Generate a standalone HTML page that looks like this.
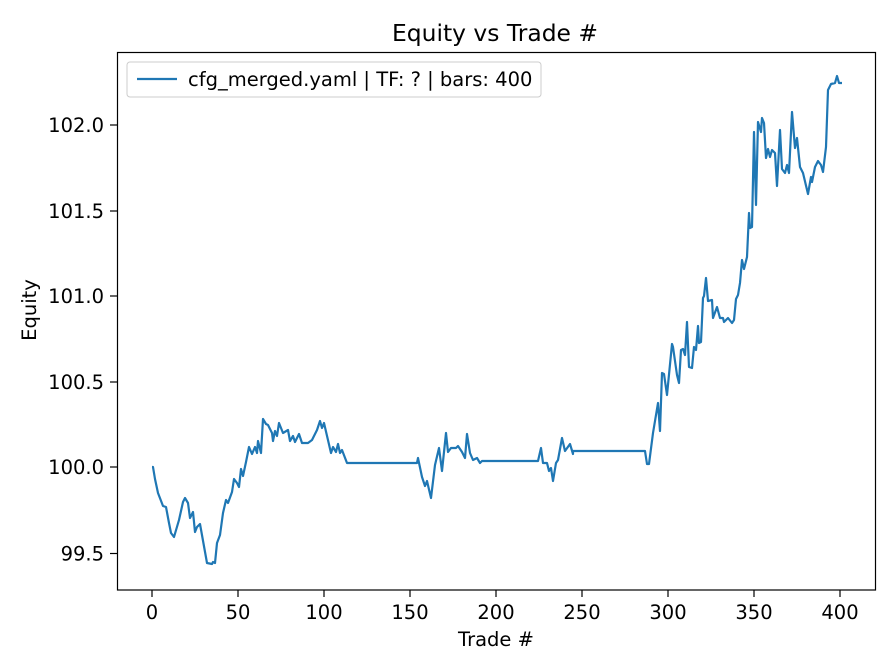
<!DOCTYPE html>
<html><head><meta charset="utf-8"><style>body{margin:0;background:#fff}svg{display:block}text{font-family:"DejaVu Sans","Liberation Sans",sans-serif;fill:#000}</style></head>
<body>
<svg width="896" height="672" viewBox="0 0 896 672">
<rect width="896" height="672" fill="#fff"/>
<text x="495" y="41" font-size="23.4" text-anchor="middle">Equity vs Trade #</text>
<g stroke="#000" stroke-width="1.2">
<line x1="152" y1="590" x2="152" y2="597"/><line x1="238" y1="590" x2="238" y2="597"/><line x1="324" y1="590" x2="324" y2="597"/><line x1="410" y1="590" x2="410" y2="597"/><line x1="496" y1="590" x2="496" y2="597"/><line x1="582" y1="590" x2="582" y2="597"/><line x1="668" y1="590" x2="668" y2="597"/><line x1="754" y1="590" x2="754" y2="597"/><line x1="840" y1="590" x2="840" y2="597"/>
<line x1="110" y1="553.5" x2="117" y2="553.5"/><line x1="110" y1="467" x2="117" y2="467"/><line x1="110" y1="382" x2="117" y2="382"/><line x1="110" y1="296" x2="117" y2="296"/><line x1="110" y1="211" x2="117" y2="211"/><line x1="110" y1="125" x2="117" y2="125"/>
</g>
<g font-size="19.5" text-anchor="middle">
<text x="152" y="619">0</text><text x="238" y="619">50</text><text x="324" y="619">100</text><text x="410" y="619">150</text><text x="496" y="619">200</text><text x="582" y="619">250</text><text x="668" y="619">300</text><text x="754" y="619">350</text><text x="840" y="619">400</text>
</g>
<g font-size="19.5" text-anchor="end">
<text x="104" y="560.5">99.5</text><text x="104" y="474">100.0</text><text x="104" y="389">100.5</text><text x="104" y="303">101.0</text><text x="104" y="218">101.5</text><text x="104" y="132">102.0</text>
</g>
<text x="496" y="646" font-size="19.5" text-anchor="middle">Trade #</text>
<text x="36" y="310" font-size="19.5" text-anchor="middle" transform="rotate(-90 36 310)">Equity</text>
<polyline fill="none" stroke="#1f77b4" stroke-width="2.2" stroke-linejoin="round" points="152,467 153,467 155,479 158,493 163,506 166,507 169,523 171,533 174,537 179,520 183,502 185,498 188,503 190,518 193,512 195,532 197,527 200,524 207,563 212,564 213,562 215,563 217,543 220,535 223,513 226,500 228,503 232,492 234,479 237,483 239,487 241,469 243,476 246,462 249,447 252,454 255,447 257,453 258,441 261,453 263,419 266,424 268,425 272,433 273,441 275,431 277,436 279,423 283,433 288,430 290,441 293,436 295,442 299,434 302,443 308,443 312,440 317,430 320,421 322,428 324,423 331,453 333,447 336,452 338,444 340,453 342,450 347,463 417,463 418,458 422,477 425,486 427,481 431,498 435,465 439,448 442,471 446,433 448,452 451,448 456,448 458,446 462,452 465,458 467,434 470,453 473,460 477,458 480,463 482,461 538,461 541,448 543,463 547,463 549,471 551,468 553,481 556,463 558,460 562,438 565,451 570,444 573,454 573,451 645,451 647,464 649,464 653,433 658,403 660,431 662,373 664,374 667,395 672,344 673,347 677,375 679,383 681,350 683,349 685,355 687,322 689,367 692,368 694,347 696,350 698,326 699,343 701,342 703,298 704,296 706,278 708,301 712,300 713,318 717,307 720,318 723,318 724,322 728,318 732,323 734,320 736,299 738,295 740,283 742,260 744,269 747,257 749,213 750,228 752,227 754,132 756,205 758,122 761,132 762,118 764,123 766,158 768,149 770,157 772,150 775,153 777,186 780,130 782,169 785,173 787,165 789,173 792,112 795,148 797,138 800,167 803,173 808,194 811,177 812,182 815,167 818,161 821,165 823,172 826,147 828,90 831,84 835,83 837,76 839,83 842,83"/>
<rect x="117.5" y="52.5" width="758" height="537.5" fill="none" stroke="#000" stroke-width="1.2"/>
<rect x="127" y="62" width="414" height="35" rx="3" fill="#fff" fill-opacity="0.8" stroke="#ccc"/>
<line x1="137" y1="79" x2="177" y2="79" stroke="#1f77b4" stroke-width="2.2"/>
<text x="188" y="86" font-size="19.5">cfg_merged.yaml | TF: ? | bars: 400</text>
</svg>
</body></html>
